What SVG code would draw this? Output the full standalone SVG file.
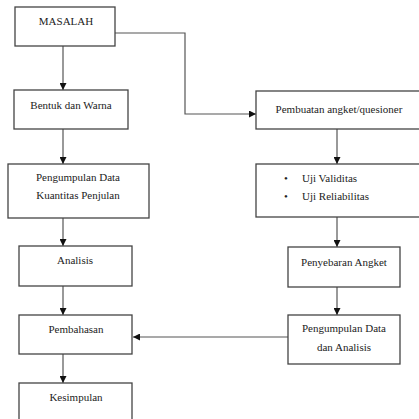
<svg xmlns="http://www.w3.org/2000/svg" width="419" height="419" viewBox="0 0 419 419">
<style>
.box{fill:#fff;stroke:#444;stroke-width:1.3}
.t{font-family:"Liberation Serif","Times New Roman",serif;font-size:11px;fill:#222;text-anchor:middle}
.tl{font-family:"Liberation Serif","Times New Roman",serif;font-size:11px;fill:#222}
.c{fill:none;stroke:#555;stroke-width:1.2}
</style>
<defs>
<marker id="a" viewBox="0 0 8 8" refX="8" refY="4" markerWidth="7" markerHeight="7" markerUnits="userSpaceOnUse" orient="auto">
<path d="M0,0 L8,4 L0,8 Z" fill="#111"/>
</marker>
</defs>
<rect width="419" height="419" fill="#fff"/>
<g id="connectors">
<line class="c" x1="63" y1="46" x2="63" y2="90" marker-end="url(#a)"/>
<polyline class="c" points="115,33 185,33 185,114 256,114" marker-end="url(#a)"/>
<line class="c" x1="63" y1="129" x2="63" y2="164" marker-end="url(#a)"/>
<line class="c" x1="63" y1="218" x2="63" y2="246" marker-end="url(#a)"/>
<line class="c" x1="63" y1="286" x2="63" y2="315" marker-end="url(#a)"/>
<line class="c" x1="63" y1="354" x2="63" y2="383" marker-end="url(#a)"/>
<line class="c" x1="337" y1="129" x2="337" y2="164" marker-end="url(#a)"/>
<line class="c" x1="337" y1="217" x2="337" y2="247" marker-end="url(#a)"/>
<line class="c" x1="337" y1="287" x2="337" y2="315" marker-end="url(#a)"/>
<line class="c" x1="288" y1="337" x2="133" y2="337" marker-end="url(#a)"/>
</g>
<g id="masalah"><rect class="box" x="15" y="7" width="100" height="39"/><text class="t" x="66" y="25">MASALAH</text></g>
<g id="bentuk"><rect class="box" x="14" y="90" width="114" height="39"/><text class="t" x="71" y="109">Bentuk dan Warna</text></g>
<g id="pengumpulan-kuantitas"><rect class="box" x="8" y="164" width="141" height="54"/><text class="t" x="78" y="181">Pengumpulan Data</text><text class="t" x="78" y="199">Kuantitas  Penjulan</text></g>
<g id="analisis"><rect class="box" x="19" y="246" width="113" height="40"/><text class="t" x="75" y="264">Analisis</text></g>
<g id="pembahasan"><rect class="box" x="19" y="315" width="113" height="39"/><text class="t" x="76" y="333">Pembahasan</text></g>
<g id="kesimpulan"><rect class="box" x="19" y="383" width="113" height="45"/><text class="t" x="76" y="401">Kesimpulan</text></g>
<g id="pembuatan"><rect class="box" x="256" y="91" width="170" height="38"/><text class="t" x="339" y="113">Pembuatan  angket/quesioner</text></g>
<g id="uji"><rect class="box" x="256" y="164" width="170" height="53"/><text class="tl" x="284" y="182">•</text><text class="tl" x="302" y="182">Uji Validitas</text><text class="tl" x="284" y="200">•</text><text class="tl" x="302" y="200">Uji Reliabilitas</text></g>
<g id="penyebaran"><rect class="box" x="288" y="247" width="112" height="40"/><text class="t" x="344" y="266">Penyebaran  Angket</text></g>
<g id="pengumpulan-analisis"><rect class="box" x="288" y="315" width="112" height="49"/><text class="t" x="344" y="332">Pengumpulan Data</text><text class="t" x="344" y="351">dan Analisis</text></g>
</svg>
